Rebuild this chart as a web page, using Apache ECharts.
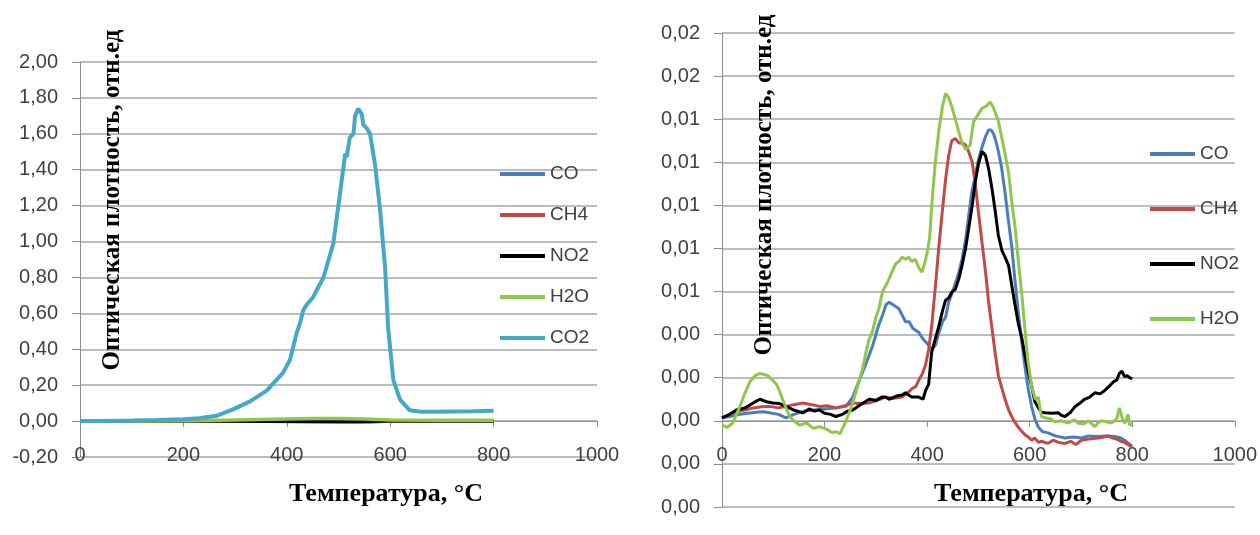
<!DOCTYPE html>
<html><head><meta charset="utf-8">
<script src="https://cdn.jsdelivr.net/npm/echarts@6/dist/echarts.min.js"></script>
<style>html,body{margin:0;padding:0;background:#fff}#c{width:1260px;height:535px}</style>
</head><body><div id="c"></div>
<script>
// ---------- DATA ----------
var xTicks = [0, 200, 400, 600, 800, 1000];
var yTitle = 'Оптическая плотность, отн.ед';
var xTitle = 'Температура, °C';
var namesLeft = ['CO', 'CH4', 'NO2', 'H2O', 'CO2'];
var namesRight = ['CO', 'CH4', 'NO2', 'H2O'];

// Left chart (T, value)
var L_CO_T  = [0, 200, 400, 600, 800];
var L_CO_V  = [0, 0, 0, 0, 0];
var L_CH4_T = [0, 400, 500, 560, 600, 800];
var L_CH4_V = [0, -0.002, -0.005, -0.006, -0.001, 0];
var L_NO2_T = [0, 250, 350, 450, 530, 600, 800];
var L_NO2_V = [0, 0, -0.002, -0.004, -0.004, 0, 0];
var L_H2O_T = [0, 100, 200, 300, 400, 450, 500, 550, 600, 700, 800];
var L_H2O_V = [0, 0.001, 0.002, 0.006, 0.012, 0.014, 0.015, 0.012, 0.006, 0.004, 0.005];
var L_CO2_T = [0, 50, 100, 150, 200, 230, 265, 296, 329, 361, 393, 406, 419, 426, 432, 439, 451, 458, 471, 490, 503, 513, 516, 518, 522, 529, 532, 538, 545, 548, 555, 561, 571, 580, 590, 596, 606, 619, 638, 660, 684, 720, 760, 800];
var L_CO2_V = [0, 0.001, 0.003, 0.006, 0.010, 0.016, 0.030, 0.065, 0.11, 0.17, 0.27, 0.34, 0.49, 0.55, 0.62, 0.65, 0.69, 0.73, 0.80, 0.99, 1.27, 1.49, 1.47, 1.51, 1.58, 1.60, 1.70, 1.74, 1.71, 1.65, 1.63, 1.60, 1.42, 1.19, 0.86, 0.52, 0.23, 0.12, 0.06, 0.052, 0.052, 0.054, 0.055, 0.057];

// Right chart (T, value)
var R_H2O_T = [0, 10, 21, 35, 45, 54, 65, 74, 82, 89, 98, 106, 112, 118, 125, 132, 140, 151, 165, 178, 190, 205, 215, 222, 230, 236, 242, 250, 255, 262, 268, 274, 280, 287, 293, 300, 306, 313, 320, 326, 333, 339, 345, 351, 358, 364, 370, 377, 384, 390, 395, 400, 405, 409, 416, 423, 430, 436, 442, 448, 455, 462, 468, 475, 480, 484, 488, 491, 499, 507, 515, 523, 528, 533, 539, 545, 552, 559, 565, 572, 578, 585, 591, 597, 604, 611, 617, 620, 623, 630, 640, 650, 662, 675, 688, 694, 705, 715, 727, 733, 740, 750, 760, 770, 775, 778, 782, 786, 792, 795, 800];
var R_H2O_V = [-0.0002, -0.0003, -0.0001, 0.00067, 0.0013, 0.0018, 0.0021, 0.0022, 0.00215, 0.0021, 0.0019, 0.0017, 0.0014, 0.0010, 0.0006, 0.0002, 0.0, -0.0002, -0.0001, -0.00035, -0.00027, -0.0004, -0.00055, -0.0005, -0.0006, -0.0003, 0.0, 0.0005, 0.00083, 0.0014, 0.0019, 0.0024, 0.0031, 0.0038, 0.0041, 0.0048, 0.0052, 0.0060, 0.0063, 0.0066, 0.0070, 0.0073, 0.0074, 0.0076, 0.0075, 0.0076, 0.0074, 0.0075, 0.0071, 0.0069, 0.0073, 0.0078, 0.0085, 0.0100, 0.0120, 0.0135, 0.0146, 0.0152, 0.0150, 0.0146, 0.0140, 0.0134, 0.0129, 0.0126, 0.0127, 0.0128, 0.0135, 0.0139, 0.0142, 0.0145, 0.0146, 0.0148, 0.0146, 0.0143, 0.0139, 0.0132, 0.0124, 0.0115, 0.0102, 0.0089, 0.0074, 0.0058, 0.0042, 0.0027, 0.0016, 0.0010, 0.0011, 0.0006, 0.0002, 0.00014, 0.0001, -0.00005, 0.0, -0.0001, 0.00005, -0.0001, -0.00015, 0.0, -0.00027, -0.0001, 0.0, -0.00005, -0.0001, 0.0001, 0.0006, 0.0006, 0.0, -0.0001, 0.0003, -0.0002, -0.00015];

var R_CO_T = [0, 15, 35, 50, 67, 80, 93, 110, 125, 140, 160, 180, 200, 220, 242, 255, 268, 280, 294, 305, 313, 320, 326, 333, 345, 358, 365, 372, 384, 392, 400, 409, 416, 423, 430, 436, 442, 450, 462, 468, 475, 481, 487, 494, 500, 507, 514, 520, 525, 530, 535, 539, 545, 552, 558, 565, 571, 578, 585, 591, 597, 604, 610, 617, 625, 636, 650, 669, 685, 701, 715, 733, 750, 766, 778, 785, 795, 800];
var R_CO_V = [0.00014, 0.0002, 0.0003, 0.00035, 0.0004, 0.00042, 0.00037, 0.0003, 0.00014, 0.0003, 0.00045, 0.0005, 0.00055, 0.0006, 0.00067, 0.0011, 0.0019, 0.0026, 0.0035, 0.0044, 0.0049, 0.0054, 0.0055, 0.0054, 0.0052, 0.0046, 0.0046, 0.0043, 0.0041, 0.0038, 0.0036, 0.0033, 0.0035, 0.0041, 0.0046, 0.0048, 0.0055, 0.0060, 0.0069, 0.0075, 0.0084, 0.0095, 0.0106, 0.0114, 0.0121, 0.0127, 0.0132, 0.0135, 0.0135, 0.0133, 0.0129, 0.0125, 0.0118, 0.0106, 0.0094, 0.0081, 0.0066, 0.0050, 0.0036, 0.0025, 0.0015, 0.00065, 0.0001, -0.0003, -0.0005, -0.00056, -0.0007, -0.0008, -0.00075, -0.0008, -0.0007, -0.00073, -0.0007, -0.00073, -0.0008, -0.0009, -0.0011, -0.00115];

var R_CH4_T = [0, 15, 28, 45, 61, 77, 93, 110, 125, 140, 158, 175, 190, 205, 222, 240, 255, 270, 287, 303, 319, 335, 351, 362, 371, 378, 384, 391, 397, 403, 409, 416, 423, 430, 436, 442, 448, 455, 462, 468, 475, 481, 488, 494, 500, 507, 514, 520, 527, 533, 539, 546, 552, 559, 565, 572, 578, 585, 591, 597, 604, 610, 617, 623, 635, 646, 656, 669, 680, 690, 701, 715, 733, 745, 753, 762, 770, 778, 785, 795, 800];
var R_CH4_V = [0.00014, 0.0003, 0.00043, 0.0005, 0.0006, 0.00065, 0.00067, 0.0006, 0.00067, 0.00075, 0.00083, 0.00075, 0.00067, 0.0007, 0.0006, 0.0007, 0.00083, 0.0008, 0.00083, 0.00095, 0.0011, 0.00105, 0.0011, 0.0013, 0.0015, 0.0016, 0.0019, 0.0022, 0.0026, 0.0033, 0.0044, 0.0062, 0.0081, 0.0098, 0.0112, 0.0123, 0.0130, 0.0131, 0.0129, 0.0129, 0.0128, 0.0125, 0.0120, 0.0110, 0.0097, 0.0083, 0.0069, 0.0055, 0.0042, 0.0031, 0.0021, 0.0015, 0.0010, 0.0005, 0.0002, -0.0001, -0.0003, -0.0005, -0.00065, -0.00075, -0.0009, -0.0008, -0.0010, -0.00095, -0.00105, -0.0009, -0.0010, -0.00105, -0.00095, -0.0011, -0.0009, -0.00085, -0.0008, -0.00075, -0.0007, -0.0008, -0.00085, -0.00095, -0.0010, -0.00115, -0.00125];

var R_NO2_T = [0, 15, 28, 45, 61, 74, 85, 99, 112, 125, 140, 158, 170, 180, 190, 200, 212, 222, 235, 245, 255, 270, 287, 300, 312, 319, 326, 340, 351, 358, 370, 384, 392, 397, 403, 409, 416, 423, 430, 436, 442, 449, 455, 462, 468, 475, 481, 488, 494, 500, 507, 511, 514, 520, 527, 533, 539, 546, 552, 559, 565, 572, 578, 585, 591, 597, 604, 610, 617, 623, 630, 643, 656, 662, 669, 680, 688, 697, 707, 717, 727, 737, 746, 755, 763, 770, 775, 780, 785, 790, 795, 800];
var R_NO2_V = [0.00014, 0.0003, 0.0005, 0.0006, 0.00083, 0.0010, 0.0009, 0.00083, 0.0008, 0.00067, 0.0005, 0.00037, 0.00055, 0.00045, 0.0005, 0.00035, 0.0003, 0.0002, 0.0003, 0.00045, 0.0005, 0.00075, 0.0010, 0.00095, 0.0011, 0.0011, 0.0010, 0.00115, 0.0012, 0.0013, 0.0011, 0.0011, 0.0010, 0.0014, 0.0017, 0.0032, 0.0038, 0.0044, 0.0051, 0.0056, 0.0057, 0.0060, 0.0061, 0.0066, 0.0072, 0.0080, 0.0089, 0.0100, 0.0111, 0.0119, 0.0125, 0.0124, 0.0123, 0.0117, 0.0107, 0.0097, 0.0086, 0.0079, 0.0076, 0.0072, 0.0063, 0.0053, 0.0045, 0.0038, 0.0030, 0.0023, 0.0016, 0.0009, 0.0006, 0.0004, 0.00037, 0.00035, 0.00037, 0.00025, 0.0002, 0.0004, 0.00065, 0.0008, 0.0010, 0.0011, 0.0013, 0.00125, 0.0014, 0.0016, 0.0018, 0.0019, 0.0022, 0.0023, 0.00205, 0.0021, 0.0020, 0.00195];

// ---------- STYLE ----------
var colors = { 'CO': '#4a7ebb', 'CH4': '#be4b48', 'NO2': '#000000', 'H2O': '#8fc74a', 'CO2': '#45a9c6' };
var labelFont = 'Liberation Sans';
var gridColor = '#a6a6a6';
var axisColor = '#8c8c8c';

function pairs(t, v) { var out = []; for (var i = 0; i < t.length; i++) out.push([t[i], v[i]]); return out; }
function fmt(v) { var s = v.toFixed(2); if (parseFloat(s) === 0) s = '0.00'; return s.replace('.', ','); }

function xAxisDef(gi, offset) {
  return {
    gridIndex: gi, type: 'value', min: 0, max: 1000, interval: 200, position: 'bottom', offset: offset,
    axisLine: { show: true, onZero: false, lineStyle: { color: axisColor, width: 1 } },
    axisTick: { show: true, length: 6, lineStyle: { color: axisColor } },
    axisLabel: { margin: 24, color: '#404040', fontFamily: labelFont, fontSize: 20, formatter: function (v) { return String(v); } },
    splitLine: { show: false }
  };
}
function yAxisDef(gi, min, max, interval) {
  return {
    gridIndex: gi, type: 'value', min: min, max: max, interval: interval,
    axisLine: { show: true, onZero: false, lineStyle: { color: axisColor, width: 1 } },
    axisTick: { show: true, length: 8, lineStyle: { color: axisColor } },
    axisLabel: { margin: 22, color: '#404040', fontFamily: labelFont, fontSize: 20, formatter: fmt },
    splitLine: { show: true, lineStyle: { color: gridColor, width: 1.5 } }
  };
}
function line(name, data, gi, width) {
  return {
    type: 'line', name: name, data: data, xAxisIndex: gi, yAxisIndex: gi,
    showSymbol: false, symbol: 'none', smooth: false, animation: false,
    color: colors[name], lineStyle: { color: colors[name], width: width }
  };
}

var chart = echarts.init(document.getElementById('c'), null, { renderer: 'canvas' });
var legendText = { color: '#404040', fontFamily: labelFont, fontSize: 19, lineHeight: 20 };
chart.setOption({
  animation: false,
  backgroundColor: '#ffffff',
  grid: [
    { left: 80, right: 663, top: 62, bottom: 78 },
    { left: 722, right: 22, top: 33, bottom: 28 }
  ],
  xAxis: [xAxisDef(0, -36), xAxisDef(1, -86)],
  yAxis: [yAxisDef(0, -0.2, 2.0, 0.2), yAxisDef(1, -0.004, 0.018, 0.002)],
  legend: [
    { data: namesLeft, orient: 'vertical', left: 495, top: 159, itemWidth: 45, itemHeight: 4, itemGap: 21, icon: 'rect', textStyle: legendText, selectedMode: false },
    { data: namesRight, orient: 'vertical', left: 1145, top: 139, itemWidth: 45, itemHeight: 4, itemGap: 35, icon: 'rect', textStyle: legendText, selectedMode: false }
  ],
  graphic: [
    { type: 'text', x: 113, y: 200, rotation: Math.PI / 2, z: 100,
      style: { text: yTitle, font: 'bold 25px "Liberation Serif"', fill: '#000', textAlign: 'center', textVerticalAlign: 'middle' } },
    { type: 'text', x: 765, y: 185, rotation: Math.PI / 2, z: 100,
      style: { text: yTitle, font: 'bold 25px "Liberation Serif"', fill: '#000', textAlign: 'center', textVerticalAlign: 'middle' } },
    { type: 'text', x: 386, y: 494, z: 100,
      style: { text: xTitle, font: 'bold 26px "Liberation Serif"', fill: '#000', textAlign: 'center', textVerticalAlign: 'middle' } },
    { type: 'text', x: 1031, y: 494, z: 100,
      style: { text: xTitle, font: 'bold 26px "Liberation Serif"', fill: '#000', textAlign: 'center', textVerticalAlign: 'middle' } }
  ],
  series: [
    line('CO', pairs(L_CO_T, L_CO_V), 0, 3),
    line('CH4', pairs(L_CH4_T, L_CH4_V), 0, 3),
    line('NO2', pairs(L_NO2_T, L_NO2_V), 0, 3),
    line('H2O', pairs(L_H2O_T, L_H2O_V), 0, 3.5),
    line('CO2', pairs(L_CO2_T, L_CO2_V), 0, 4),
    line('CO', pairs(R_CO_T, R_CO_V), 1, 3),
    line('CH4', pairs(R_CH4_T, R_CH4_V), 1, 3),
    line('NO2', pairs(R_NO2_T, R_NO2_V), 1, 3),
    line('H2O', pairs(R_H2O_T, R_H2O_V), 1, 3)
  ]
});
</script>
</body></html>
